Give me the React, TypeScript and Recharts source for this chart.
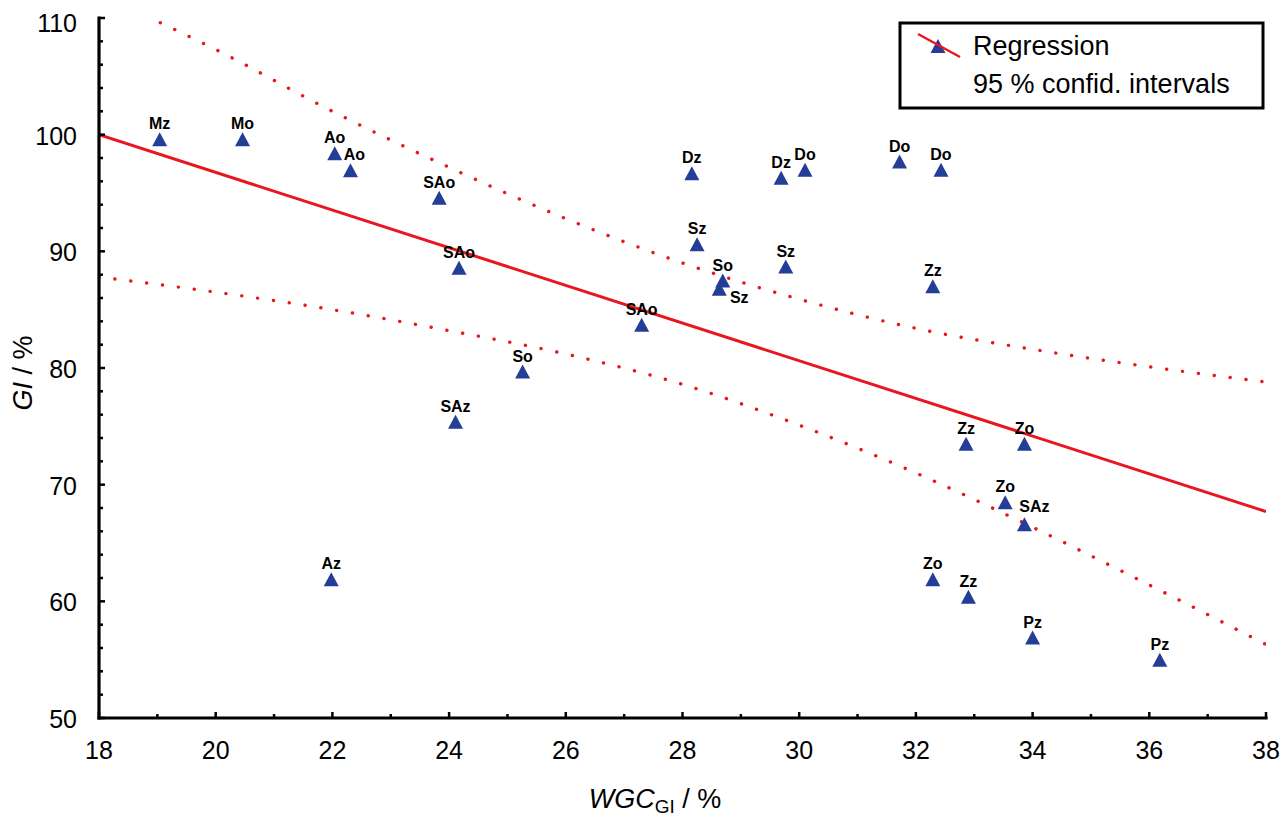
import React from 'react'
import { ComposedChart, Line, Scatter, XAxis, YAxis } from 'recharts'

// measured samples: water-holding capacity vs. GI
const WGC = [19.04, 20.46, 22.04, 22.31, 23.83, 24.17, 25.26, 24.11, 21.98, 27.3, 28.16, 28.25, 28.69, 28.63, 29.69, 30.1, 29.77, 31.72, 32.43, 32.29, 32.86, 33.86, 33.53, 33.86, 32.29, 32.9, 34.0, 36.18]
const GI = [99.6, 99.6, 98.4, 96.95, 94.6, 88.6, 79.7, 75.4, 61.9, 83.7, 96.7, 90.6, 87.5, 86.8, 96.3, 97.0, 88.7, 97.7, 97.0, 87.0, 73.5, 73.5, 68.5, 66.6, 61.9, 60.4, 56.9, 55.0]
const SAMPLE = ['Mz', 'Mo', 'Ao', 'Ao', 'SAo', 'SAo', 'So', 'SAz', 'Az', 'SAo', 'Dz', 'Sz', 'So', 'Sz', 'Dz', 'Do', 'Sz', 'Do', 'Do', 'Zz', 'Zz', 'Zo', 'Zo', 'SAz', 'Zo', 'Zz', 'Pz', 'Pz']
const PLACEMENT = ['above', 'above', 'above', 'slightRight', 'above', 'above', 'above', 'above', 'above', 'above', 'above', 'above', 'above', 'belowRight', 'above', 'above', 'above', 'above', 'above', 'above', 'above', 'above', 'above', 'aboveRight', 'above', 'above', 'above', 'above']

// regression line and 95 % band
const REG_X = [18, 38]
const REG_Y = [100, 67.7]
const UP_X = [19.05, 20, 22, 24, 26, 28, 30, 32, 34, 36, 38]
const UP_Y = [109.6, 107.3, 102.0, 97.2, 92.8, 89.0, 85.9, 83.4, 81.6, 80.1, 78.8]
const LO_X = [18, 20, 22, 24, 26, 28, 30, 32, 34, 36, 38]
const LO_Y = [87.8, 86.5, 85.0, 83.2, 81.2, 78.6, 75.1, 71.0, 66.35, 61.4, 56.3]

const X_TICKS = [18, 19, 20, 21, 22, 23, 24, 25, 26, 27, 28, 29, 30, 31, 32, 33, 34, 35, 36, 37, 38]
const Y_TICKS = [50, 52, 54, 56, 58, 60, 62, 64, 66, 68, 70, 72, 74, 76, 78, 80, 82, 84, 86, 88, 90, 92, 94, 96, 98, 100, 102, 104, 106, 108, 110]
const TOP_TICKS = [0, 1, 2, 3, 4, 5, 6, 7, 8, 9, 10, 11, 12, 13, 14, 15, 16, 17, 18, 19, 20, 21, 22, 23, 24]

const FONT = 'Liberation Sans, Arial, Helvetica, sans-serif'
const RED = '#e8171f'
const BLUE = '#243d97'

const points = WGC.map((x, i) => ({ x, y: GI[i], label: SAMPLE[i], place: PLACEMENT[i] }))
const toXY = (xs: number[], ys: number[]) => xs.map((x, i) => ({ x, y: ys[i] }))
const regData = toXY(REG_X, REG_Y)
const upData = toXY(UP_X, UP_Y)
const loData = toXY(LO_X, LO_Y)

const frame = { stroke: '#000', strokeWidth: 3.2, strokeLinecap: 'square' as const }

const LABEL_OFFSET: Record<string, [number, number]> = {
  above: [0, -10],
  slightRight: [4, -10],
  aboveRight: [10, -12],
  belowRight: [20, 14],
}

function Triangle(props: any) {
  const { cx, cy, payload } = props
  if (cx == null || cy == null) return null
  const [dx, dy] = LABEL_OFFSET[payload.place] ?? [0, -10]
  return (
    <g>
      <polygon points={`${cx},${cy - 7} ${cx - 7.5},${cy + 7} ${cx + 7.5},${cy + 7}`} fill={BLUE} />
      <text x={cx + dx} y={cy + dy} textAnchor="middle" fontFamily={FONT} fontWeight="bold" fontSize={16} fill="#000">
        {payload.label}
      </text>
    </g>
  )
}

function BottomTick({ x, y, payload }: any) {
  const major = payload.value % 2 === 0
  return (
    <g>
      <line x1={x} y1={y} x2={x} y2={y - (major ? 6 : 4)} stroke="#000" strokeWidth={2.5} />
      {major && (
        <text x={x} y={y + 41} textAnchor="middle" fontFamily={FONT} fontSize={25} fill="#000">{payload.value}</text>
      )}
    </g>
  )
}

function LeftTick({ x, y, payload }: any) {
  const major = payload.value % 10 === 0
  return (
    <g>
      <line x1={x} y1={y} x2={x + (major ? 6 : 4)} y2={y} stroke="#000" strokeWidth={2.5} />
      {major && (
        <text x={x - 22} y={payload.value === 110 ? 32 : y + 10} textAnchor="end" fontFamily={FONT} fontSize={25} fill="#000">{payload.value}</text>
      )}
    </g>
  )
}

function TopTick({ x, y }: any) {
  return <line x1={x} y1={y} x2={x} y2={y + 4} stroke="#000" strokeWidth={2.5} />
}

function RightTick({ x, y }: any) {
  return <line x1={x} y1={y} x2={x - 4} y2={y} stroke="#000" strokeWidth={2.5} />
}

export default function App() {
  return (
    <div style={{ position: 'absolute', left: 0, top: 0, width: 1282, height: 818, background: '#fff' }}>
      <ComposedChart width={1282} height={818} margin={{ top: 18, right: 16, bottom: 0, left: 0 }}>
        <XAxis xAxisId="x" dataKey="x" type="number" domain={[18, 38]} ticks={X_TICKS} interval={0} height={100}
          tickSize={0} tickMargin={0} tickLine={false} axisLine={frame} tick={BottomTick} allowDataOverflow />
        <XAxis xAxisId="top" orientation="top" type="number" domain={[0, 24]} ticks={TOP_TICKS} interval={0} height={0}
          tickSize={0} tickMargin={0} tickLine={false} axisLine={frame} tick={TopTick} allowDataOverflow />
        <YAxis yAxisId="y" dataKey="y" type="number" domain={[50, 110]} ticks={Y_TICKS} interval={0} width={99}
          tickSize={0} tickMargin={0} tickLine={false} axisLine={frame} tick={LeftTick} allowDataOverflow />
        <YAxis yAxisId="right" orientation="right" type="number" domain={[50, 110]} ticks={Y_TICKS} interval={0} width={0}
          tickSize={0} tickMargin={0} tickLine={false} axisLine={frame} tick={RightTick} allowDataOverflow />

        <Line xAxisId="x" yAxisId="y" data={upData} dataKey="y" type="monotone" stroke={RED} strokeWidth={3.4}
          strokeDasharray="0.1 15.9" strokeLinecap="round" dot={false} activeDot={false} isAnimationActive={false} />
        <Line xAxisId="x" yAxisId="y" data={loData} dataKey="y" type="monotone" stroke={RED} strokeWidth={3.4}
          strokeDasharray="0.1 15.9" strokeLinecap="round" dot={false} activeDot={false} isAnimationActive={false} />
        <Line xAxisId="x" yAxisId="y" data={regData} dataKey="y" type="linear" stroke={RED} strokeWidth={3}
          dot={false} activeDot={false} isAnimationActive={false} />
        <Scatter xAxisId="x" yAxisId="y" data={points} dataKey="y" shape={Triangle} isAnimationActive={false} />
      </ComposedChart>

      <svg width={1282} height={818} style={{ position: 'absolute', left: 0, top: 0, pointerEvents: 'none' }}>
        <rect x={900} y={23} width={363} height={85} fill="#fff" stroke="#000" strokeWidth={3} />
        <polygon points="938,39 930.5,53 945.5,53" fill={BLUE} />
        <line x1={918} y1={34} x2={960} y2={57} stroke={RED} strokeWidth={2.5} />
        <text x={973} y={55} fontFamily={FONT} fontSize={27} fill="#000">Regression</text>
        <text x={973} y={93} fontFamily={FONT} fontSize={27} fill="#000">95 % confid. intervals</text>

        <text x={655} y={808} textAnchor="middle" fontFamily={FONT} fontSize={27} fill="#000">
          <tspan fontStyle="italic">WGC</tspan>
          <tspan fontSize={19} dy={5}>GI</tspan>
          <tspan dy={-5}> / %</tspan>
        </text>
        <text x={32} y={373} textAnchor="middle" fontFamily={FONT} fontSize={27} fill="#000" transform="rotate(-90, 32, 373)">
          <tspan fontStyle="italic">GI</tspan> / %
        </text>
      </svg>
    </div>
  )
}
